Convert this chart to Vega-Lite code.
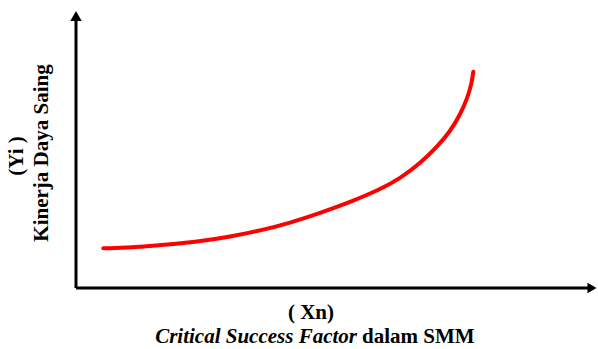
{
  "$schema": "https://vega.github.io/schema/vega-lite/v6.json",
  "width": 522,
  "height": 278,
  "autosize": "none",
  "padding": {"left": 76, "top": 10, "right": 0, "bottom": 61},
  "background": "white",
  "config": {"view": {"stroke": null}},
  "datasets": {
    "curve": [
      {"x": 27.3, "y": 39.7},
      {"x": 64, "y": 40.7},
      {"x": 124, "y": 46.3},
      {"x": 154, "y": 51.3},
      {"x": 184, "y": 57.3},
      {"x": 214, "y": 65.1},
      {"x": 244, "y": 75},
      {"x": 274, "y": 85.8},
      {"x": 304, "y": 98.5},
      {"x": 324, "y": 109.5},
      {"x": 344, "y": 124.5},
      {"x": 360.7, "y": 140.7},
      {"x": 374, "y": 156.3},
      {"x": 384, "y": 173},
      {"x": 391.3, "y": 189.7},
      {"x": 395.7, "y": 204.7},
      {"x": 397.3, "y": 216.3}
    ]
  },
  "layer": [
    {
      "data": {"values": [{}]},
      "mark": {"type": "rule", "strokeWidth": 3, "color": "black"},
      "encoding": {
        "x": {"datum": 0, "type": "quantitative", "scale": {"domain": [0, 522], "nice": false, "zero": false}, "axis": null},
        "y": {"datum": 0, "type": "quantitative", "scale": {"domain": [0, 278], "nice": false, "zero": false}, "axis": null},
        "y2": {"datum": 268}
      }
    },
    {
      "data": {"values": [{}]},
      "mark": {"type": "rule", "strokeWidth": 3, "color": "black"},
      "encoding": {
        "x": {"datum": 0, "type": "quantitative"},
        "x2": {"datum": 512},
        "y": {"datum": 0, "type": "quantitative"}
      }
    },
    {
      "data": {"values": [{}]},
      "mark": {"type": "point", "shape": "triangle-up", "filled": true, "color": "black", "size": 130, "opacity": 1},
      "encoding": {
        "x": {"datum": 0, "type": "quantitative"},
        "y": {"datum": 272, "type": "quantitative"}
      }
    },
    {
      "data": {"values": [{}]},
      "mark": {"type": "point", "shape": "triangle-right", "filled": true, "color": "black", "size": 110, "opacity": 1},
      "encoding": {
        "x": {"datum": 516, "type": "quantitative"},
        "y": {"datum": 0, "type": "quantitative"}
      }
    },
    {
      "data": {"name": "curve"},
      "mark": {"type": "line", "color": "#ff0000", "strokeWidth": 4, "strokeCap": "round", "interpolate": "basis"},
      "encoding": {
        "x": {"field": "x", "type": "quantitative"},
        "y": {"field": "y", "type": "quantitative"}
      }
    },
    {
      "data": {"values": [{}]},
      "mark": {"type": "text", "text": "(Yi )", "font": "Liberation Serif", "fontWeight": "bold", "fontSize": 21, "angle": 270, "align": "center", "baseline": "middle"},
      "encoding": {
        "x": {"datum": -59, "type": "quantitative"},
        "y": {"datum": 132, "type": "quantitative"}
      }
    },
    {
      "data": {"values": [{}]},
      "mark": {"type": "text", "text": "Kinerja Daya Saing", "font": "Liberation Serif", "fontWeight": "bold", "fontSize": 21, "angle": 270, "align": "center", "baseline": "middle"},
      "encoding": {
        "x": {"datum": -34, "type": "quantitative"},
        "y": {"datum": 135, "type": "quantitative"}
      }
    },
    {
      "data": {"values": [{}]},
      "mark": {"type": "text", "text": "( Xn)", "font": "Liberation Serif", "fontWeight": "bold", "fontSize": 21, "align": "center", "baseline": "middle"},
      "encoding": {
        "x": {"datum": 235, "type": "quantitative"},
        "y": {"datum": -25, "type": "quantitative"}
      }
    },
    {
      "data": {"values": [{}]},
      "mark": {"type": "text", "text": "Critical Success Factor", "font": "Liberation Serif", "fontWeight": "bold", "fontStyle": "italic", "fontSize": 21, "align": "right", "baseline": "middle"},
      "encoding": {
        "x": {"datum": 281, "type": "quantitative"},
        "y": {"datum": -49, "type": "quantitative"}
      }
    },
    {
      "data": {"values": [{}]},
      "mark": {"type": "text", "text": "dalam SMM", "font": "Liberation Serif", "fontWeight": "bold", "fontSize": 21, "align": "left", "baseline": "middle"},
      "encoding": {
        "x": {"datum": 286, "type": "quantitative"},
        "y": {"datum": -49, "type": "quantitative"}
      }
    }
  ]
}
